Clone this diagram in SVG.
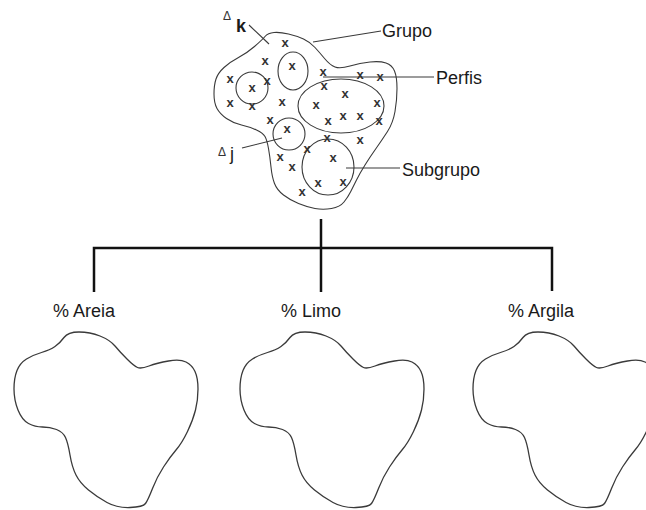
<svg xmlns="http://www.w3.org/2000/svg" xmlns:xlink="http://www.w3.org/1999/xlink" width="646" height="510" viewBox="0 0 646 510">
<style>
.bg{fill:#ffffff}
.thin{fill:none;stroke:#3a3a3a;stroke-width:1.1}
.blob{fill:none;stroke:#3a3a3a;stroke-width:1.3;stroke-linejoin:round}
.tree{fill:none;stroke:#111;stroke-width:2.5}
.lead{fill:none;stroke:#3a3a3a;stroke-width:1.1}
.lbl{font-family:"Liberation Sans",Arial,sans-serif;font-size:18px;fill:#1a1a1a}
.x{font-family:"Liberation Sans",Arial,sans-serif;font-size:13px;font-weight:bold;fill:#333;text-anchor:middle}
.sm{font-family:"Liberation Sans",Arial,sans-serif;font-size:12px;fill:#333}
</style>
<defs>
<path id="blobShape" class="blob" d="M 79,332 Q 90,332 100,336 Q 110,340 115,346 Q 120,352 127,359 Q 134,366 137.5,367.5 Q 141,369 149,366 Q 157,363 168.5,361 Q 180,359 186,362 Q 192,365 195,371.5 Q 198,378 198,389 Q 198,400 195.5,410 Q 193,420 187.5,431.5 Q 182,443 176,450 Q 170,457 163.5,467 Q 157,477 152.5,488.5 Q 148,500 145.5,503.5 Q 143,507 130,507.5 Q 117,508 107,502.5 Q 97,497 88.5,490 Q 80,483 76,475 Q 72,467 70,455 Q 68,443 65.5,437.5 Q 63,432 56.5,429.5 Q 50,427 42.5,427 Q 35,427 28.5,423.5 Q 22,420 18,410 Q 14,400 14,389 Q 14,378 17,370.5 Q 20,363 26.5,359 Q 33,355 41.5,352.5 Q 50,350 55,346.5 Q 60,343 64,337.5 Q 68,332 79,332 Z"/>
</defs>
<rect class="bg" x="0" y="0" width="646" height="510"/>

<g id="connectors">
<polyline class="tree" points="94,292 94,248 552,248 552,291"/>
<line class="tree" x1="321" y1="219" x2="321" y2="292"/>
<line class="lead" x1="249" y1="25" x2="269" y2="44"/>
<line class="lead" x1="313" y1="42" x2="381" y2="31"/>
<line class="lead" x1="323" y1="77" x2="434" y2="77"/>
<line class="lead" x1="242" y1="148" x2="282" y2="138"/>
<line class="lead" x1="346" y1="168" x2="400" y2="168"/>
</g>

<g id="grupo">
<path class="thin" d="M 274,32.5 Q 280,32 288.5,34 Q 297,36 303.5,39 Q 310,42 315,47.5 Q 320,53 325,59 Q 330,65 335,67 Q 340,69 350,66 Q 360,63 370,62 Q 380,61 386,63 Q 392,65 394.5,71 Q 397,77 397,88.5 Q 397,100 395,111.5 Q 393,123 387.5,131.5 Q 382,140 376,148.5 Q 370,157 365,165 Q 360,173 356.5,180 Q 353,187 350.5,192 Q 348,197 344,202 Q 340,207 331.5,208.5 Q 323,210 315,208.5 Q 307,207 298.5,203.5 Q 290,200 283.5,195 Q 277,190 274.5,183.5 Q 272,177 271,167 Q 270,157 268.5,148.5 Q 267,140 265,136.5 Q 263,133 256.5,130 Q 250,127 241.5,125 Q 233,123 226.5,118.5 Q 220,114 217,108.5 Q 214,103 214,94 Q 214,85 216,79 Q 218,73 224,67.5 Q 230,62 238.5,57.5 Q 247,53 254.5,46.5 Q 262,40 265,36.5 Q 268,33 274,32.5 Z"/>
<circle class="thin" cx="252" cy="88" r="16"/>
<ellipse class="thin" cx="293" cy="71" rx="15" ry="19"/>
<ellipse class="thin" cx="341" cy="106" rx="43" ry="27"/>
<circle class="thin" cx="289" cy="134" r="16"/>
<ellipse class="thin" cx="328" cy="167" rx="26" ry="28"/>
<g>
<text class="x" x="285" y="47">x</text>
<text class="x" x="265" y="65">x</text>
<text class="x" x="292" y="70">x</text>
<text class="x" x="230" y="83">x</text>
<text class="x" x="252" y="92">x</text>
<text class="x" x="267" y="85">x</text>
<text class="x" x="230" y="107">x</text>
<text class="x" x="252" y="110">x</text>
<text class="x" x="282" y="106">x</text>
<text class="x" x="323" y="76">x</text>
<text class="x" x="360" y="79">x</text>
<text class="x" x="380" y="81">x</text>
<text class="x" x="324" y="90">x</text>
<text class="x" x="345" y="98">x</text>
<text class="x" x="316" y="109">x</text>
<text class="x" x="377" y="107">x</text>
<text class="x" x="328" y="125">x</text>
<text class="x" x="343" y="120">x</text>
<text class="x" x="360" y="120">x</text>
<text class="x" x="379" y="125">x</text>
<text class="x" x="270" y="124">x</text>
<text class="x" x="287" y="133">x</text>
<text class="x" x="327" y="142">x</text>
<text class="x" x="360" y="144">x</text>
<text class="x" x="307" y="153">x</text>
<text class="x" x="280" y="161">x</text>
<text class="x" x="292" y="171">x</text>
<text class="x" x="333" y="162">x</text>
<text class="x" x="318" y="187">x</text>
<text class="x" x="343" y="186">x</text>
<text class="x" x="302" y="196">x</text>
</g>
<text class="sm" x="223" y="20">Δ</text>
<text class="lbl" x="236" y="32" font-weight="bold">k</text>
<text class="sm" x="218" y="156">Δ</text>
<text class="lbl" x="230" y="160">j</text>
<text class="lbl" x="382" y="37">Grupo</text>
<text class="lbl" x="436" y="84">Perfis</text>
<text class="lbl" x="402" y="176">Subgrupo</text>
</g>

<g id="areia">
<use xlink:href="#blobShape"/>
<text class="lbl" x="53" y="317">% Areia</text>
</g>
<g id="limo">
<use xlink:href="#blobShape" transform="translate(226,0)"/>
<text class="lbl" x="281" y="317">% Limo</text>
</g>
<g id="argila">
<use xlink:href="#blobShape" transform="translate(459,0)"/>
<text class="lbl" x="508" y="317">% Argila</text>
</g>
</svg>
